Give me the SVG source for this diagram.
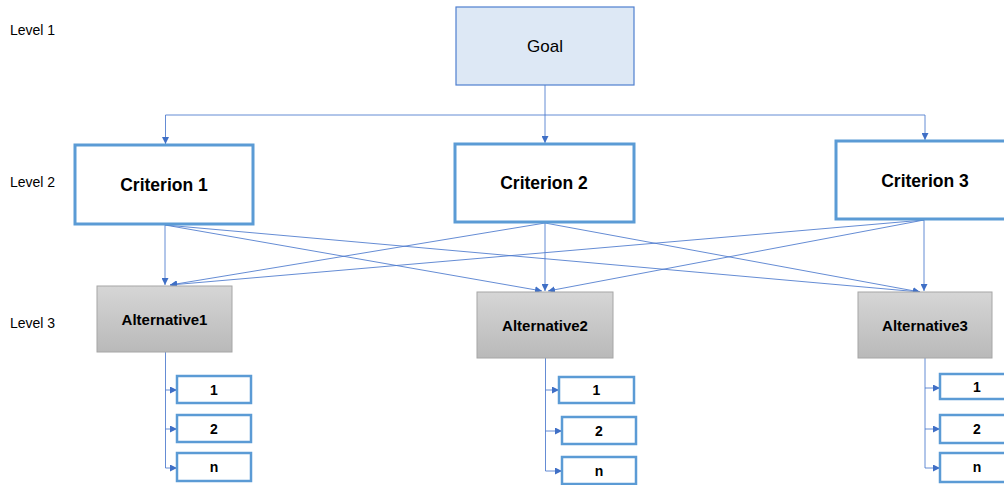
<svg xmlns="http://www.w3.org/2000/svg" width="1004" height="485" viewBox="0 0 1004 485">
<style>
.lvl{font-family:"Liberation Sans",Arial,sans-serif;font-size:14px;fill:#000}
.goal{fill:#dde8f5;stroke:#4f7fcf;stroke-width:1.2}
.crit{fill:#fff;stroke:#5b9bd5;stroke-width:3}
.alt{fill:url(#g);stroke:#a6a6a6;stroke-width:1}
.sub{fill:#fff;stroke:#5b9bd5;stroke-width:2.5}
.t{font-family:"Liberation Sans",Arial,sans-serif;text-anchor:middle;dominant-baseline:central;fill:#000}
.tg{font-size:17px}
.tc{font-size:17.5px;font-weight:bold}
.ta{font-size:15px;font-weight:bold}
.ts{font-size:14px;font-weight:bold}
.c{fill:none;stroke:#4a78cc;stroke-width:1;stroke-opacity:0.85;marker-end:url(#ah)}
.cn{fill:none;stroke:#4a78cc;stroke-width:1;stroke-opacity:0.85}
</style>
<defs>
<linearGradient id="g" x1="0" y1="0" x2="0" y2="1">
<stop offset="0" stop-color="#d6d6d6"/>
<stop offset="1" stop-color="#b9b9b9"/>
</linearGradient>
<marker id="ah" viewBox="0 0 10 10" refX="10" refY="5" markerWidth="7" markerHeight="7" markerUnits="userSpaceOnUse" orient="auto">
<path d="M0,0 L10,5 L0,10 z" fill="#3f6fc6"/>
</marker>
</defs>
<g id="levels">
<text class="lvl" x="10" y="35">Level 1</text>
<text class="lvl" x="10" y="187">Level 2</text>
<text class="lvl" x="10" y="328">Level 3</text>
</g>
<g id="connectors">
<path class="cn" d="M545,85 V115"/>
<path class="cn" d="M165.5,115 H925"/>
<path class="c" d="M165.5,115 V144"/>
<path class="c" d="M545,115 V143"/>
<path class="c" d="M925,115 V140"/>
<path class="c" d="M165,225 V285"/>
<path class="c" d="M165,225 L542,291"/>
<path class="c" d="M165,225 L920,292"/>
<path class="c" d="M545,223 L170,285"/>
<path class="c" d="M545,223 V291"/>
<path class="c" d="M545,223 L920,292"/>
<path class="c" d="M924,220 L170,285"/>
<path class="c" d="M924,220 L548,291"/>
<path class="c" d="M924,220 V291"/>
<path class="cn" d="M165.5,352 V468"/>
<path class="c" d="M165.5,390 H177"/>
<path class="c" d="M165.5,429 H177"/>
<path class="c" d="M165.5,468 H177"/>
<path class="cn" d="M545.5,358 V471"/>
<path class="c" d="M545.5,390 H559"/>
<path class="c" d="M545.5,431 H562"/>
<path class="c" d="M545.5,471 H562"/>
<path class="cn" d="M925,358 V468"/>
<path class="c" d="M925,388 H940"/>
<path class="c" d="M925,429 H940"/>
<path class="c" d="M925,468 H940"/>
</g>
<g id="goal"><rect class="goal" x="456" y="7" width="178" height="78"/><text class="t tg" x="545" y="46">Goal</text></g>
<g id="criterion1"><rect class="crit" x="75" y="145" width="178" height="79"/><text class="t tc" x="164" y="185">Criterion 1</text></g>
<g id="criterion2"><rect class="crit" x="455" y="144" width="179" height="78"/><text class="t tc" x="544" y="183">Criterion 2</text></g>
<g id="criterion3"><rect class="crit" x="836" y="141" width="178" height="78"/><text class="t tc" x="925" y="181">Criterion 3</text></g>
<g id="alternative1"><rect class="alt" x="97" y="286" width="135" height="66"/><text class="t ta" x="164.5" y="319">Alternative1</text></g>
<g id="alternative2"><rect class="alt" x="477" y="292" width="136" height="66"/><text class="t ta" x="545" y="325">Alternative2</text></g>
<g id="alternative3"><rect class="alt" x="858" y="292" width="134" height="66"/><text class="t ta" x="925" y="325">Alternative3</text></g>
<g id="a1-1"><rect class="sub" x="177" y="376" width="74" height="27"/><text class="t ts" x="214" y="390">1</text></g>
<g id="a1-2"><rect class="sub" x="177" y="415" width="74" height="27"/><text class="t ts" x="214" y="429">2</text></g>
<g id="a1-n"><rect class="sub" x="177" y="453" width="74" height="28"/><text class="t ts" x="214" y="467">n</text></g>
<g id="a2-1"><rect class="sub" x="559" y="377" width="75" height="26"/><text class="t ts" x="596.5" y="390">1</text></g>
<g id="a2-2"><rect class="sub" x="562" y="417" width="74" height="27"/><text class="t ts" x="599" y="431">2</text></g>
<g id="a2-n"><rect class="sub" x="562" y="457" width="74" height="27"/><text class="t ts" x="599" y="471">n</text></g>
<g id="a3-1"><rect class="sub" x="940" y="374" width="74" height="25"/><text class="t ts" x="977" y="387">1</text></g>
<g id="a3-2"><rect class="sub" x="940" y="415" width="74" height="28"/><text class="t ts" x="977" y="429">2</text></g>
<g id="a3-n"><rect class="sub" x="940" y="453" width="74" height="29"/><text class="t ts" x="977" y="467">n</text></g>
</svg>
